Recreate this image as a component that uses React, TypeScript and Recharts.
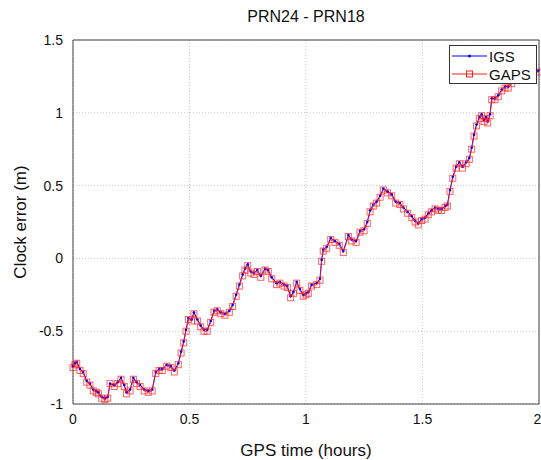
import React from 'react';
import {
  LineChart,
  Line,
  XAxis,
  YAxis,
  CartesianGrid,
  ReferenceLine,
} from 'recharts';

// GPS time (hours)
const TIME = [
  0.0, 0.008, 0.016, 0.03, 0.044, 0.059, 0.073, 0.087, 0.1, 0.109, 0.123, 0.137, 0.149, 0.159,
  0.177, 0.192, 0.206, 0.22, 0.23, 0.245, 0.259, 0.273, 0.288, 0.306, 0.323, 0.34, 0.355, 0.369,
  0.383, 0.402, 0.42, 0.435, 0.452, 0.464, 0.475, 0.485, 0.495, 0.509, 0.519, 0.534, 0.548, 0.562,
  0.576, 0.591, 0.605, 0.619, 0.634, 0.652, 0.671, 0.685, 0.7, 0.714, 0.728, 0.738, 0.75, 0.763,
  0.777, 0.791, 0.806, 0.824, 0.838, 0.853, 0.874, 0.888, 0.906, 0.92, 0.934, 0.946, 0.96, 0.974,
  0.988, 1.0, 1.01, 1.024, 1.046, 1.06, 1.067, 1.074, 1.089, 1.106, 1.124, 1.143, 1.16, 1.182,
  1.196, 1.215, 1.232, 1.249, 1.263, 1.275, 1.289, 1.303, 1.318, 1.332, 1.35, 1.368, 1.385, 1.403,
  1.418, 1.436, 1.454, 1.468, 1.482, 1.496, 1.511, 1.525, 1.539, 1.554, 1.568, 1.582, 1.597, 1.607,
  1.618, 1.63, 1.644, 1.658, 1.672, 1.687, 1.701, 1.711, 1.721, 1.732, 1.744, 1.754, 1.764, 1.773,
  1.78, 1.79, 1.797, 1.811, 1.825, 1.84, 1.854, 1.868, 1.883, 1.904, 1.933, 1.961, 1.997,
];

// Clock error (m), IGS
const IGS = [
  -0.74, -0.72, -0.71, -0.76, -0.78, -0.84, -0.86, -0.9, -0.91, -0.92, -0.95, -0.96, -0.95, -0.86,
  -0.87, -0.85, -0.82, -0.87, -0.92, -0.9, -0.82, -0.85, -0.87, -0.9, -0.91, -0.9, -0.78, -0.76,
  -0.76, -0.73, -0.74, -0.77, -0.72, -0.64, -0.57, -0.49, -0.41, -0.42, -0.37, -0.42, -0.46, -0.49,
  -0.49, -0.43, -0.36, -0.35, -0.37, -0.38, -0.36, -0.32, -0.25, -0.18, -0.11, -0.07, -0.04, -0.09,
  -0.1, -0.08, -0.12, -0.07, -0.08, -0.13, -0.17, -0.16, -0.18, -0.19, -0.26, -0.23, -0.16, -0.21,
  -0.25, -0.24, -0.23, -0.18, -0.17, -0.14, -0.01, 0.06, 0.08, 0.14, 0.12, 0.1, 0.05, 0.16,
  0.13, 0.12, 0.19, 0.2, 0.25, 0.33, 0.37, 0.39, 0.43, 0.48, 0.46, 0.44, 0.39, 0.38,
  0.35, 0.32, 0.29, 0.26, 0.24, 0.27, 0.28, 0.31, 0.33, 0.35, 0.34, 0.34, 0.36, 0.37,
  0.47, 0.56, 0.63, 0.66, 0.63, 0.66, 0.69, 0.76, 0.85, 0.92, 0.97, 0.99, 0.95, 0.97,
  0.94, 0.99, 1.1, 1.1, 1.12, 1.16, 1.18, 1.18, 1.21, 1.24, 1.25, 1.26, 1.29,
];

// Clock error (m), GAPS
const GAPS = [
  -0.75, -0.73, -0.72, -0.77, -0.79, -0.85, -0.87, -0.91, -0.92, -0.93, -0.96, -0.97, -0.96, -0.86,
  -0.88, -0.86, -0.83, -0.88, -0.93, -0.91, -0.83, -0.86, -0.88, -0.91, -0.92, -0.91, -0.79, -0.77,
  -0.77, -0.74, -0.75, -0.78, -0.73, -0.65, -0.58, -0.5, -0.42, -0.43, -0.38, -0.43, -0.47, -0.5,
  -0.5, -0.44, -0.37, -0.36, -0.38, -0.39, -0.37, -0.33, -0.26, -0.19, -0.12, -0.08, -0.05, -0.1,
  -0.11, -0.09, -0.13, -0.08, -0.09, -0.14, -0.18, -0.17, -0.19, -0.2, -0.27, -0.24, -0.17, -0.22,
  -0.26, -0.25, -0.24, -0.19, -0.18, -0.15, -0.02, 0.05, 0.07, 0.13, 0.11, 0.09, 0.04, 0.15,
  0.12, 0.11, 0.18, 0.19, 0.24, 0.32, 0.36, 0.38, 0.42, 0.47, 0.45, 0.43, 0.38, 0.37,
  0.34, 0.31, 0.28, 0.25, 0.23, 0.26, 0.27, 0.3, 0.32, 0.34, 0.33, 0.33, 0.35, 0.36,
  0.46, 0.55, 0.62, 0.65, 0.62, 0.65, 0.68, 0.75, 0.84, 0.91, 0.96, 0.98, 0.94, 0.96,
  0.93, 0.98, 1.09, 1.09, 1.11, 1.15, 1.17, 1.17, 1.2, 1.23, 1.24, 1.25, 1.28,
];

const X_TICKS = [0, 0.5, 1, 1.5, 2];
const Y_TICKS = [-1, -0.5, 0, 0.5, 1, 1.5];

const FONT = 'Arial, "Liberation Sans", Helvetica, sans-serif';

const data = TIME.map((t, i) => ({ t, igs: IGS[i], gaps: GAPS[i] }));

function SquareDot(props: any) {
  const { cx, cy } = props;
  if (cx == null || cy == null) return null;
  return (
    <rect
      x={cx - 3}
      y={cy - 3}
      width={6}
      height={6}
      fill="none"
      stroke="#ff2020"
      strokeOpacity={0.7}
      strokeWidth={1}
    />
  );
}

function SmallDot(props: any) {
  const { cx, cy } = props;
  if (cx == null || cy == null) return null;
  return <circle cx={cx} cy={cy} r={1.3} fill="#0000ff" />;
}

// Legend box drawn over the plot, like MATLAB's opaque legend
function LegendBox() {
  return (
    <div
      style={{
        position: 'absolute',
        left: 449,
        top: 45,
        background: '#fff',
        border: '1px solid #333',
        width: 88,
        height: 39,
        boxSizing: 'border-box',
        fontFamily: FONT,
        fontSize: 15,
        color: '#111',
      }}
    >
      <div style={{ display: 'flex', alignItems: 'center', height: 18, marginTop: 1 }}>
        <svg width={39} height={18}>
          <line x1={2} y1={9} x2={37} y2={9} stroke="#0000ff" strokeWidth={1} />
          <circle cx={19.5} cy={9} r={1.5} fill="#0000ff" />
        </svg>
        <span>IGS</span>
      </div>
      <div style={{ display: 'flex', alignItems: 'center', height: 18 }}>
        <svg width={39} height={18}>
          <line x1={2} y1={9} x2={37} y2={9} stroke="#ff2020" strokeWidth={1} />
          <rect x={16.5} y={6} width={6} height={6} fill="none" stroke="#ff2020" />
        </svg>
        <span>GAPS</span>
      </div>
    </div>
  );
}

export default function App() {
  return (
    <div style={{ position: 'absolute', left: 0, top: 0, width: 541, height: 460, background: '#fff' }}>
      <div
        style={{
          position: 'absolute',
          left: 73,
          width: 466,
          top: 8,
          textAlign: 'center',
          fontFamily: FONT,
          fontSize: 16,
          color: '#111',
        }}
      >
        PRN24 - PRN18
      </div>
      <LineChart
        width={541}
        height={460}
        data={data}
        margin={{ top: 40, right: 2, bottom: 0, left: 0 }}
      >
        <CartesianGrid stroke="#c8c8c8" strokeDasharray="1 2" />
        <XAxis
          dataKey="t"
          type="number"
          domain={[0, 2]}
          ticks={X_TICKS}
          height={56}
          stroke="#444"
          tickLine={false}
          tickMargin={4}
          tick={{ fill: '#111', fontSize: 14, fontFamily: FONT }}
          label={{
            value: 'GPS time (hours)',
            position: 'insideBottom',
            offset: 4,
            style: { fill: '#111', fontSize: 17, fontFamily: FONT },
          }}
        />
        <YAxis
          type="number"
          domain={[-1, 1.5]}
          ticks={Y_TICKS}
          width={73}
          stroke="#444"
          tickLine={false}
          tickMargin={4}
          tick={{ fill: '#111', fontSize: 14, fontFamily: FONT }}
          label={{
            value: 'Clock error (m)',
            angle: -90,
            position: 'insideLeft',
            offset: 20,
            style: { fill: '#111', fontSize: 17, fontFamily: FONT, textAnchor: 'middle' },
          }}
        />
        <ReferenceLine y={1.5} stroke="#444" />
        <ReferenceLine x={2} stroke="#444" />
        <Line
          dataKey="igs"
          name="IGS"
          type="linear"
          stroke="#0000ff"
          strokeWidth={1}
          dot={(p: any) => <SmallDot key={`i-${p.index}`} {...p} />}
          isAnimationActive={false}
        />
        <Line
          dataKey="gaps"
          name="GAPS"
          type="linear"
          stroke="#ff2020"
          strokeOpacity={0.8}
          strokeWidth={1}
          dot={(p: any) => <SquareDot key={`g-${p.index}`} {...p} />}
          isAnimationActive={false}
        />
      </LineChart>
      <LegendBox />
    </div>
  );
}
